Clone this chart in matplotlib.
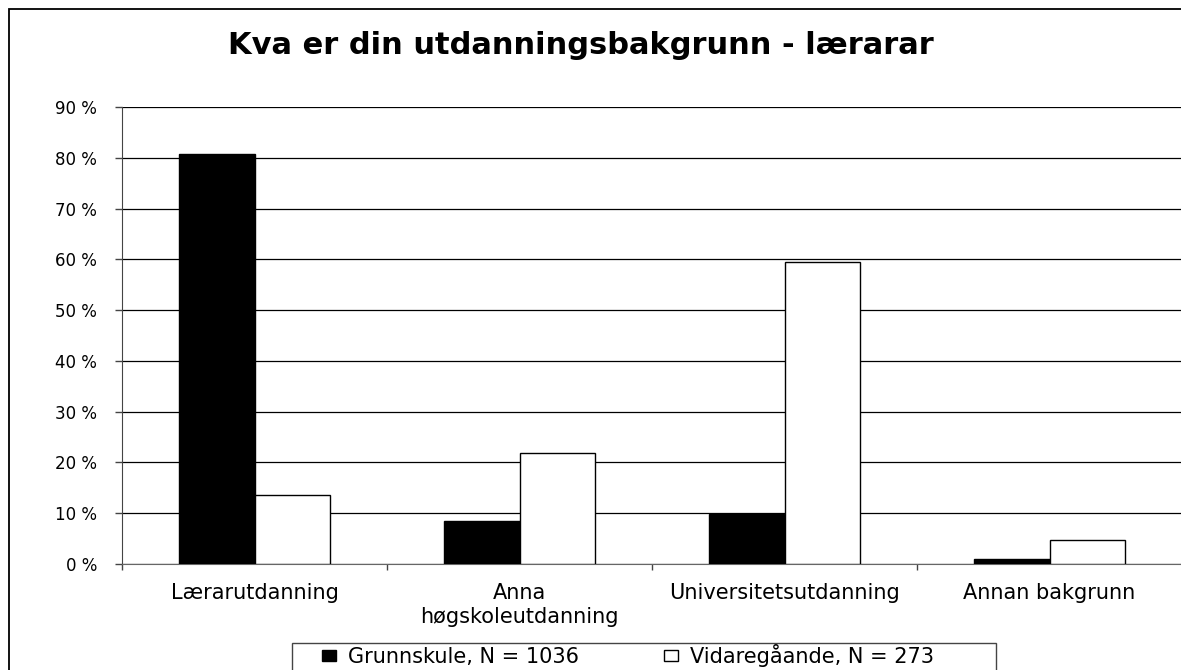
import matplotlib

matplotlib.use("Agg")
import matplotlib.pyplot as plt
from matplotlib.patches import Rectangle
import numpy as np

categories = ["Lærarutdanning", "Anna\nhøgskoleutdanning", "Universitetsutdanning", "Annan bakgrunn"]
grunnskule = [80.7, 8.5, 9.8, 1.0]
vidaregaande = [13.6, 21.9, 59.5, 4.7]
series_labels = ["Grunnskule, N = 1036", "Vidaregåande, N = 273"]
yticks = list(range(0, 100, 10))
title = "Kva er din utdanningsbakgrunn - lærarar"

W, H = 1181, 670


def main() -> None:
    fig = plt.figure(figsize=(W / 100, H / 100), dpi=100)
    fig.patch.set_facecolor("white")

    # outer chart border (clipped on right and bottom like the original)
    fig.patches.append(Rectangle((9 / W, -0.1), 1.2, 1 - 9 / H + 0.1, transform=fig.transFigure,
                                 fill=False, edgecolor="black", linewidth=1.3))

    ax = fig.add_axes([122 / W, (H - 564) / H, (1182 - 122) / W, (564 - 107) / H])
    x = np.arange(len(categories))
    w = 0.285
    ax.bar(x - w / 2, grunnskule, w, color="black", edgecolor="black", linewidth=1, zorder=3,
           label=series_labels[0])
    ax.bar(x + w / 2, vidaregaande, w, color="white", edgecolor="black", linewidth=1, zorder=3,
           label=series_labels[1])

    ax.set_xlim(-0.5, len(categories) - 0.5)
    ax.set_ylim(0, 90)
    ax.set_yticks(yticks)
    ax.set_yticklabels([f"{v} %" for v in yticks], fontsize=12)
    ax.yaxis.grid(True, color="black", linewidth=0.9, zorder=0)
    ax.set_axisbelow(True)
    ax.tick_params(axis="y", direction="out", length=5, width=1, pad=13, color="#444444")

    ax.set_xticks(x)
    ax.set_xticklabels(categories, fontsize=15)
    ax.set_xticks(np.arange(len(categories) + 1) - 0.5, minor=True)
    ax.tick_params(axis="x", which="major", length=0, pad=14)
    ax.tick_params(axis="x", which="minor", direction="out", length=4, width=1, color="#444444")

    for side in ("top", "right"):
        ax.spines[side].set_visible(False)
    ax.spines["left"].set_color("#444444")
    ax.spines["bottom"].set_color("#666666")

    fig.text(581 / W, 1 - 54 / H, title, ha="center", va="baseline", fontsize=22, fontweight="bold")

    # legend box
    fig.patches.append(Rectangle((292 / W, -0.1), (996 - 292) / W, 0.1 + (H - 643) / H,
                                 transform=fig.transFigure, fill=False, edgecolor="#444444",
                                 linewidth=1))
    fig.legend(loc="upper left", bbox_to_anchor=(322 / W, 1 - 644 / H), ncol=2, frameon=False,
               fontsize=15, borderpad=0, borderaxespad=0, handlelength=0.65, handleheight=0.42,
               handletextpad=0.6, columnspacing=4.1)

    fig.savefig("out.png", dpi=100)
    plt.close(fig)


if __name__ == "__main__":
    main()
